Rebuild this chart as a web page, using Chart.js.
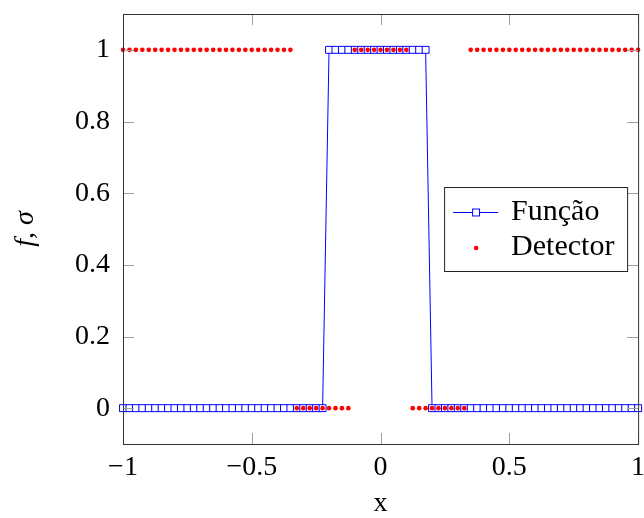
<!DOCTYPE html>
<html>
<head>
<meta charset="utf-8">
<script src="https://cdn.jsdelivr.net/npm/chart.js@4.4.0/dist/chart.umd.min.js"></script>
<style>
  html, body { margin: 0; padding: 0; background: #fff; }
  #wrap { width: 644px; height: 518px; }
</style>
</head>
<body>
<div id="wrap"><canvas id="chart" width="644" height="518"></canvas></div>
<script>
const xValues = [
  -1, -0.975, -0.95, -0.925, -0.9, -0.875, -0.85, -0.825, -0.8,
  -0.775, -0.75, -0.725, -0.7, -0.675, -0.65, -0.625, -0.6, -0.575,
  -0.55, -0.525, -0.5, -0.475, -0.45, -0.425, -0.4, -0.375, -0.35,
  -0.325, -0.3, -0.275, -0.25, -0.225, -0.2, -0.175, -0.15, -0.125,
  -0.1, -0.075, -0.05, -0.025, 0, 0.025, 0.05, 0.075, 0.1,
  0.125, 0.15, 0.175, 0.2, 0.225, 0.25, 0.275, 0.3, 0.325,
  0.35, 0.375, 0.4, 0.425, 0.45, 0.475, 0.5, 0.525, 0.55,
  0.575, 0.6, 0.625, 0.65, 0.675, 0.7, 0.725, 0.75, 0.775,
  0.8, 0.825, 0.85, 0.875, 0.9, 0.925, 0.95, 0.975, 1
];
const funcValues = [
  0, 0, 0, 0, 0, 0, 0, 0, 0,
  0, 0, 0, 0, 0, 0, 0, 0, 0,
  0, 0, 0, 0, 0, 0, 0, 0, 0,
  0, 0, 0, 0, 0, 1, 1, 1, 1,
  1, 1, 1, 1, 1, 1, 1, 1, 1,
  1, 1, 1, 0, 0, 0, 0, 0, 0,
  0, 0, 0, 0, 0, 0, 0, 0, 0,
  0, 0, 0, 0, 0, 0, 0, 0, 0,
  0, 0, 0, 0, 0, 0, 0, 0, 0
];
const detectorValues = [
  1, 1, 1, 1, 1, 1, 1, 1, 1,
  1, 1, 1, 1, 1, 1, 1, 1, 1,
  1, 1, 1, 1, 1, 1, 1, 1, 1,
  0, 0, 0, 0, 0, 0, 0, 0, 0,
  1, 1, 1, 1, 1, 1, 1, 1, 1,
  0, 0, 0, 0, 0, 0, 0, 0, 0,
  1, 1, 1, 1, 1, 1, 1, 1, 1,
  1, 1, 1, 1, 1, 1, 1, 1, 1,
  1, 1, 1, 1, 1, 1, 1, 1, 1
];
const xTicks = [-1, -0.5, 0, 0.5, 1];
const yTicks = [0, 0.2, 0.4, 0.6, 0.8, 1];

const serif = '"Liberation Serif", "DejaVu Serif", serif';
const tickFont = { family: serif, size: 28, lineHeight: 1 };
const blue = 'rgb(0, 0, 255)';
const red = 'rgb(255, 0, 0)';
const markRadius = 4.9;
const dotRadius = 2.3;

function formatTick(v) {
  return v < 0 ? '\u2212' + Math.abs(v) : String(v);
}

// the labels must not push the plot area inwards
function noLabelPadding(s) {
  s.paddingLeft = 0;
  s.paddingRight = 0;
  s.paddingTop = 0;
  s.paddingBottom = 0;
}

const framePlugin = {
  id: 'frame',
  afterDatasetsDraw(chart) {
    const { ctx, chartArea: a, scales: { x, y } } = chart;
    const tickLen = 11;
    ctx.save();
    ctx.strokeStyle = '#a0a0a0';
    ctx.lineWidth = 1;
    ctx.beginPath();
    xTicks.forEach(v => {
      const px = Math.round(x.getPixelForValue(v)) + 0.5;
      ctx.moveTo(px, a.top);
      ctx.lineTo(px, a.top + tickLen);
      ctx.moveTo(px, a.bottom);
      ctx.lineTo(px, a.bottom - tickLen);
    });
    yTicks.forEach(v => {
      const py = Math.round(y.getPixelForValue(v)) + 0.5;
      ctx.moveTo(a.left, py);
      ctx.lineTo(a.left + tickLen, py);
      ctx.moveTo(a.right, py);
      ctx.lineTo(a.right - tickLen, py);
    });
    ctx.stroke();
    ctx.strokeStyle = '#333';
    ctx.strokeRect(a.left + 0.5, a.top + 0.5, a.right - a.left, a.bottom - a.top);
    ctx.restore();
  }
};

const legendPlugin = {
  id: 'boxLegend',
  afterDraw(chart) {
    const { ctx, chartArea: a } = chart;
    const boxW = 183, boxH = 84;
    const left = a.right - 11 - boxW;
    const top = Math.round((a.top + a.bottom) / 2 - boxH / 2);
    ctx.save();
    ctx.fillStyle = '#fff';
    ctx.fillRect(left, top, boxW, boxH);
    ctx.strokeStyle = '#222';
    ctx.lineWidth = 1;
    ctx.strokeRect(left + 0.5, top + 0.5, boxW, boxH);

    // Função: line with square mark
    const y1 = top + 25;
    const markX = left + 32;
    ctx.strokeStyle = blue;
    ctx.beginPath();
    ctx.moveTo(left + 9, y1 + 0.5);
    ctx.lineTo(left + 54, y1 + 0.5);
    ctx.stroke();
    const s = markRadius * Math.SQRT1_2;
    ctx.fillStyle = '#fff';
    ctx.fillRect(markX - s, y1 - s + 0.5, 2 * s, 2 * s);
    ctx.strokeRect(markX - s, y1 - s + 0.5, 2 * s, 2 * s);

    // Detector: red dot
    const y2 = top + 61;
    ctx.fillStyle = red;
    ctx.beginPath();
    ctx.arc(markX, y2, dotRadius, 0, Math.PI * 2);
    ctx.fill();

    ctx.fillStyle = '#000';
    ctx.font = '30px ' + serif;
    ctx.textBaseline = 'alphabetic';
    ctx.textAlign = 'left';
    ctx.fillText('Função', left + 67, top + 33);
    ctx.fillText('Detector', left + 67, top + 68);
    ctx.restore();
  }
};

const ctx = document.getElementById('chart');

new Chart(ctx, {
  type: 'scatter',
  data: {
    datasets: [
      {
        label: 'Função',
        data: xValues.map((x, i) => ({ x: x, y: funcValues[i] })),
        showLine: true,
        tension: 0,
        borderColor: blue,
        borderWidth: 1,
        pointStyle: 'rect',
        pointRadius: markRadius,
        pointBackgroundColor: '#fff',
        pointBorderColor: blue,
        pointBorderWidth: 1,
        clip: false,
        order: 2,
      },
      {
        label: 'Detector',
        data: xValues.map((x, i) => ({ x: x, y: detectorValues[i] })),
        showLine: false,
        pointStyle: 'circle',
        pointRadius: dotRadius,
        pointBackgroundColor: red,
        pointBorderColor: red,
        pointBorderWidth: 0,
        clip: false,
        order: 1,
      },
    ],
  },
  options: {
    responsive: false,
    animation: false,
    devicePixelRatio: 1,
    layout: { padding: { top: 14, right: 3, left: 0, bottom: 0 } },
    plugins: {
      legend: { display: false },
      tooltip: { enabled: false },
    },
    scales: {
      x: {
        type: 'linear',
        min: -1,
        max: 1,
        afterBuildTicks: s => { s.ticks = xTicks.map(v => ({ value: v })); },
        afterFit: s => { s.height = 74; noLabelPadding(s); },
        grid: { display: false, drawTicks: false },
        border: { display: false },
        ticks: { font: tickFont, color: '#000', padding: 10, maxRotation: 0, autoSkip: false, callback: formatTick },
        title: { display: true, text: 'x', font: tickFont, color: '#000', padding: 0 },
      },
      y: {
        type: 'linear',
        min: -0.1,
        max: 1.1,
        afterBuildTicks: s => { s.ticks = yTicks.map(v => ({ value: v })); },
        afterFit: s => { s.width = 123; noLabelPadding(s); },
        grid: { display: false, drawTicks: false },
        border: { display: false },
        ticks: { font: tickFont, color: '#000', padding: 13, autoSkip: false, callback: formatTick },
        title: {
          display: true,
          text: 'f, σ',
          font: { family: serif, size: 28, style: 'italic', lineHeight: 1 },
          color: '#000',
          padding: { top: 12, bottom: 0 },
        },
      },
    },
  },
  plugins: [framePlugin, legendPlugin],
});
</script>
</body>
</html>
